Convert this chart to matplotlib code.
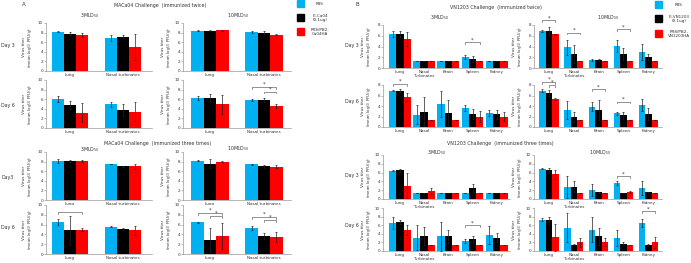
import matplotlib
matplotlib.use("Agg")
import matplotlib.pyplot as plt
from matplotlib.patches import Rectangle

# ---------------- data ----------------
series_a = ["PBS", "FI-Ca04\n(0.1ug)", "PR8/PB2-\nCa04HA"]
series_b = ["PBS", "FI-VN1203\n(0.1ug)", "PR8/PB2-\nVN1203HA"]
cats_a = ["Lung", "Nasal turbinates"]
cats_b = ["Lung", "Nasal\nTurbinates", "Brain", "Spleen", "Kidney"]
cats_b_short = ["Lung", "Nasal", "Brain", "Spleen", "Kidney"]

# Panel A  (MACa04) : rows = PBS, FI, PR8/PB2 ; columns = categories
a_tw_d3_3m = [[8.2, 6.9], [7.8, 7.1], [7.5, 5.0]]
a_tw_d3_3e = [[0.15, 0.6], [0.4, 0.3], [0.5, 2.8]]
a_tw_d6_3m = [[6.1, 4.9], [4.8, 3.8], [3.2, 3.4]]
a_tw_d6_3e = [[0.6, 0.5], [0.8, 1.3], [2.0, 2.0]]
a_tw_d3_10m = [[8.4, 8.1], [8.4, 8.0], [8.5, 7.6]]
a_tw_d3_10e = [[0.1, 0.2], [0.1, 0.3], [0.1, 0.2]]
a_tw_d6_10m = [[6.3, 5.8], [6.3, 5.8], [4.9, 4.5]]
a_tw_d6_10e = [[0.4, 0.2], [0.7, 0.4], [1.9, 0.4]]

a_th_d3_3m = [[8.2, 7.5], [8.1, 7.0], [8.1, 7.0]]
a_th_d3_3e = [[0.4, 0.1], [0.2, 0.1], [0.2, 0.5]]
a_th_d6_3m = [[6.5, 5.6], [4.8, 5.2], [5.0, 4.8]]
a_th_d6_3e = [[0.6, 0.1], [3.0, 0.2], [0.4, 1.0]]
a_th_d3_10m = [[8.2, 7.4], [7.6, 7.0], [8.0, 6.9]]
a_th_d3_10e = [[0.1, 0.2], [0.9, 0.3], [0.1, 0.3]]
a_th_d6_10m = [[6.5, 5.3], [2.9, 3.6], [3.7, 3.4]]
a_th_d6_10e = [[0.1, 0.4], [2.5, 0.6], [2.6, 1.0]]

# Panel B  (VN1203)
b_tw_d3_3m = [[6.3, 1.35, 1.35, 2.0, 1.35], [6.3, 1.35, 1.35, 1.7, 1.35], [5.4, 1.35, 1.35, 1.35, 1.35]]
b_tw_d3_3e = [[0.5, 0, 0, 0.4, 0], [0.6, 0, 0, 0.5, 0], [1.3, 0, 0, 0, 0]]
b_tw_d6_3m = [[6.9, 2.3, 4.4, 3.6, 2.65], [6.9, 2.95, 2.75, 2.5, 2.4], [5.7, 1.35, 1.35, 2.0, 2.0]]
b_tw_d6_3e = [[0.1, 1.8, 2.5, 0.6, 0.6], [0.3, 2.7, 2.4, 0.9, 0.9], [0.7, 0, 0, 1.0, 0.9]]
b_tw_d3_10m = [[6.9, 3.9, 1.5, 4.1, 3.0], [6.9, 2.6, 1.5, 2.6, 2.0], [6.3, 1.35, 1.35, 1.35, 1.35]]
b_tw_d3_10e = [[0.2, 1.4, 0.2, 1.1, 1.5], [0.7, 1.6, 0.2, 1.1, 0.6], [0.1, 0, 0, 0, 0]]
b_tw_d6_10m = [[6.9, 3.3, 3.9, 2.6, 4.2], [6.5, 1.9, 3.2, 2.2, 2.5], [5.4, 1.35, 1.35, 1.35, 1.35]]
b_tw_d6_10e = [[0.3, 1.7, 0.8, 0.3, 1.2], [0.6, 0.9, 1.9, 0.7, 1.2], [0.2, 0, 0, 0, 0]]

b_th_d3_3m = [[6.4, 1.35, 1.35, 1.35, 1.35], [6.5, 1.35, 1.35, 2.5, 1.35], [3.0, 1.8, 1.35, 1.35, 1.35]]
b_th_d3_3e = [[0.1, 0, 0, 0, 0], [0.4, 0, 0, 1.0, 0], [2.8, 0.7, 0, 0, 0]]
b_th_d6_3m = [[6.6, 3.1, 3.4, 2.3, 3.8], [6.8, 3.5, 3.4, 2.7, 3.1], [4.9, 1.35, 1.35, 1.35, 1.35]]
b_th_d6_3e = [[1.4, 2.9, 3.4, 0.4, 2.1], [0.5, 2.0, 1.6, 0.8, 1.1], [1.1, 0, 0, 0, 0]]
b_th_d3_10m = [[6.9, 2.8, 2.1, 3.6, 2.6], [6.6, 2.8, 1.5, 1.35, 1.5], [5.6, 1.35, 1.35, 1.6, 1.35]]
b_th_d3_10e = [[0.1, 2.5, 1.4, 0.5, 1.6], [0.5, 1.3, 0.2, 0, 0.2], [1.0, 0, 0, 0.3, 0]]
b_th_d6_10m = [[7.3, 5.4, 5.0, 3.0, 6.5], [7.1, 1.45, 3.4, 1.7, 1.5], [3.2, 2.0, 2.1, 1.35, 2.0]]
b_th_d6_10e = [[0.4, 3.4, 2.8, 1.8, 1.0], [0.9, 0.1, 1.9, 0.3, 0.2], [3.1, 1.1, 1.0, 0, 1.2]]

colors = ["#00B0F0", "#000000", "#FF0000"]

# ---------------- figure ----------------
W, H = 691, 263
fig = plt.figure(figsize=(W / 100, H / 100), dpi=100)
FS = 3.0
TC = "#333333"


def add_ax(l, t, r, b):
    return fig.add_axes([l / W, 1 - b / H, (r - l) / W, (b - t) / H])


def ftext(x, y, s, **kw):
    kw.setdefault("fontsize", FS)
    kw.setdefault("ha", "center")
    kw.setdefault("va", "center")
    kw.setdefault("color", TC)
    fig.text(x / W, 1 - y / H, s, **kw)


def panel(box, cats, means, errs, ymax, xlim, width, brackets=()):
    ax = add_ax(*box)
    n = len(cats)
    for i in range(3):
        xs = [c + (i - 1) * width for c in range(n)]
        ax.bar(xs, means[i], width, color=colors[i], zorder=2)
        ax.errorbar(xs, means[i], yerr=errs[i], fmt="none", ecolor="#222222",
                    elinewidth=0.5, capsize=0.8, capthick=0.5, zorder=3)
    ax.set_xlim(*xlim)
    ax.set_ylim(0, ymax)
    ax.set_yticks(range(0, ymax + 1, 2))
    ax.set_xticks(range(n))
    ax.set_xticklabels(cats, fontsize=FS, linespacing=0.9, color=TC)
    ax.tick_params(axis="y", labelsize=FS, length=1.2, width=0.4, pad=1, labelcolor=TC,
                   color="#888888")
    ax.tick_params(axis="x", length=0, pad=1.5)
    for s in ("top", "right"):
        ax.spines[s].set_visible(False)
    for s in ("left", "bottom"):
        ax.spines[s].set_linewidth(0.5)
        ax.spines[s].set_color("#999999")
    for (c, s1, s2, y, star) in brackets:
        x1 = c + (s1 - 1) * width
        x2 = c + (s2 - 1) * width
        d = ymax * 0.04
        ax.plot([x1, x1, x2, x2], [y - d, y, y, y - d], color="#666666", lw=0.5, clip_on=False)
        if star:
            ax.text((x1 + x2) / 2, y, "*", ha="center", va="bottom", fontsize=3.8, color=TC)
    return ax


def ylab(x, top, bot):
    ftext(x, (top + bot) / 2, "Virus titer\n(mean log$_{10}$ PFU/g)", rotation=90,
          linespacing=1.0)


# Panel A geometry
aL1, aR1 = 46, 152
aL2, aR2 = 183, 291
a_rows = [(23, 71), (80, 128), (152, 200), (205, 254)]
xa1 = (-0.45, 1.55)
xa2 = (-0.5, 1.5)
wa = 0.23

panel((aL1, a_rows[0][0], aR1, a_rows[0][1]), cats_a, a_tw_d3_3m, a_tw_d3_3e, 10, xa1, wa)
panel((aL1, a_rows[1][0], aR1, a_rows[1][1]), cats_a, a_tw_d6_3m, a_tw_d6_3e, 10, xa1, wa)
panel((aL2, a_rows[0][0], aR2, a_rows[0][1]), cats_a, a_tw_d3_10m, a_tw_d3_10e, 10, xa2, wa)
panel((aL2, a_rows[1][0], aR2, a_rows[1][1]), cats_a, a_tw_d6_10m, a_tw_d6_10e, 10, xa2, wa,
      brackets=[(1, 0, 2, 8.6, True), (1, 1, 2, 7.6, True)])
panel((aL1, a_rows[2][0], aR1, a_rows[2][1]), cats_a, a_th_d3_3m, a_th_d3_3e, 10, xa1, wa)
panel((aL1, a_rows[3][0], aR1, a_rows[3][1]), cats_a, a_th_d6_3m, a_th_d6_3e, 10, xa1, wa,
      brackets=[(0, 0, 2, 8.6, False)])
panel((aL2, a_rows[2][0], aR2, a_rows[2][1]), cats_a, a_th_d3_10m, a_th_d3_10e, 10, xa2, wa)
panel((aL2, a_rows[3][0], aR2, a_rows[3][1]), cats_a, a_th_d6_10m, a_th_d6_10e, 10, xa2, wa,
      brackets=[(0, 0, 2, 8.4, True), (0, 1, 2, 7.8, True), (1, 0, 2, 7.6, True), (1, 1, 2, 7.0, True)])

# Panel B geometry
bL1, bR1 = 383, 510
bL2, bR2 = 534, 662
b_rows = [(25, 68), (85, 127), (155, 199), (208, 251)]
xb1 = (-0.7, 4.55)
xb2 = (-0.6, 4.55)
wb1 = 0.3
wb2 = 0.26

panel((bL1, b_rows[0][0], bR1, b_rows[0][1]), cats_b, b_tw_d3_3m, b_tw_d3_3e, 8, xb1, wb1,
      brackets=[(3, 0, 2, 4.8, True)])
panel((bL1, b_rows[1][0], bR1, b_rows[1][1]), cats_b_short, b_tw_d6_3m, b_tw_d6_3e, 8, xb1, wb1,
      brackets=[(0, 0, 2, 8.2, True)])
panel((bL2, b_rows[0][0], bR2, b_rows[0][1]), cats_b, b_tw_d3_10m, b_tw_d3_10e, 8, xb2, wb2,
      brackets=[(0, 0, 2, 8.9, True), (1, 0, 2, 6.6, True), (3, 0, 2, 7.2, True)])
panel((bL2, b_rows[1][0], bR2, b_rows[1][1]), cats_b_short, b_tw_d6_10m, b_tw_d6_10e, 8, xb2, wb2,
      brackets=[(0, 0, 2, 8.6, True), (0, 1, 2, 8.0, True), (2, 0, 2, 7.2, True), (3, 0, 2, 4.8, True)])
panel((bL1, b_rows[2][0], bR1, b_rows[2][1]), cats_b, b_th_d3_3m, b_th_d3_3e, 10, xb1, wb1)
panel((bL1, b_rows[3][0], bR1, b_rows[3][1]), cats_b, b_th_d6_3m, b_th_d6_3e, 10, xb1, wb1,
      brackets=[(3, 0, 2, 6.0, True)])
panel((bL2, b_rows[2][0], bR2, b_rows[2][1]), cats_b, b_th_d3_10m, b_th_d3_10e, 10, xb2, wb2,
      brackets=[(3, 0, 2, 5.2, True)])
panel((bL2, b_rows[3][0], bR2, b_rows[3][1]), cats_b, b_th_d6_10m, b_th_d6_10e, 10, xb2, wb2,
      brackets=[(4, 0, 2, 9.2, True)])

# y labels
for (t, b) in a_rows:
    ylab(28, t, b)
    ylab(167, t, b)
for (t, b) in b_rows:
    ylab(367, t, b)
    ylab(518, t, b)

# Day labels
ftext(8, 45, "Day 3", fontsize=3.4)
ftext(8, 106, "Day 6", fontsize=3.4)
ftext(8, 178, "Day3", fontsize=3.4)
ftext(8, 228, "Day 6", fontsize=3.4)
ftext(352, 45, "Day 3", fontsize=3.4)
ftext(352, 101, "Day 6", fontsize=3.4)
ftext(352, 176, "Day 3", fontsize=3.4)
ftext(352, 226, "Day 6", fontsize=3.4)

# subtitles
ftext(90, 16, "3MLD$_{50}$", fontsize=3.4)
ftext(238, 16, "10MLD$_{50}$", fontsize=3.4)
ftext(90, 150, "3MLD$_{50}$", fontsize=3.4)
ftext(238, 149, "10MLD$_{50}$", fontsize=3.4)
ftext(440, 18, "3MLD$_{50}$", fontsize=3.4)
ftext(608, 18, "10MLD$_{50}$", fontsize=3.4)
ftext(437, 153, "3MLD$_{50}$", fontsize=3.4)
ftext(600, 153, "10MLD$_{50}$", fontsize=3.4)

# titles
ftext(160, 6, "MACa04 Challenge  (immunized twice)", fontsize=3.4)
ftext(158, 144, "MACa04 Challenge  (immunized three times)", fontsize=3.4)
ftext(496, 7, "VN1203 Challenge  (immunized twice)", fontsize=3.4)
ftext(500, 144, "VN1203 Challenge  (immunized three times)", fontsize=3.4)

# panel letters
ftext(24, 4, "A", fontsize=4)
ftext(357, 4, "B", fontsize=4)


# legends
def legend(xsq, xtxt, ys, labels):
    for y, lab, col in zip(ys, labels, colors):
        fig.add_artist(Rectangle((xsq / W, 1 - (y + 3) / H), 7 / W, 7 / H,
                                 transform=fig.transFigure, color=col))
        ftext(xtxt, y, lab, linespacing=1.0)


legend(297, 320, [4, 18, 32], series_a)
legend(655, 679, [5, 19, 34], series_b)

fig.savefig("out.png", dpi=100)
